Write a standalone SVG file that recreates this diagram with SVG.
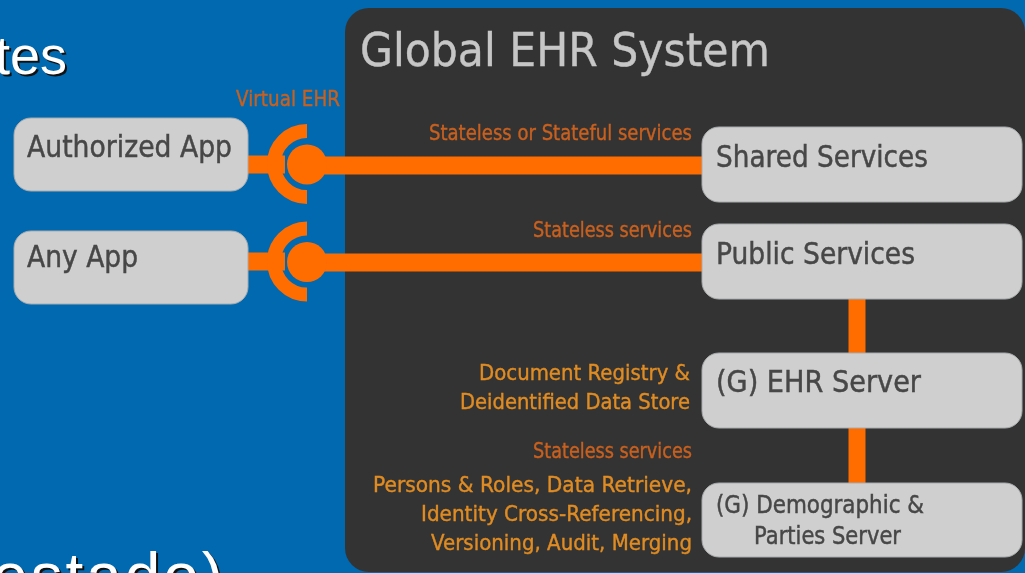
<svg xmlns="http://www.w3.org/2000/svg" width="1025" height="573" viewBox="0 0 1025 573">
<defs><filter id="soft" x="-5%" y="-20%" width="110%" height="140%"><feGaussianBlur stdDeviation="0.6"/></filter></defs>
<style>
.n{fill:#cfcfcf;stroke:#a9abad;stroke-width:1}
.t{font-family:"DejaVu Sans","Liberation Sans",sans-serif;fill:#474747;stroke:#474747;stroke-width:.5;font-size:31px;filter:url(#soft)}
.d{font-size:25px}
.o{font-family:"DejaVu Sans","Liberation Sans",sans-serif;fill:#e08c22;stroke:#e08c22;stroke-width:.4;font-size:21px;filter:url(#soft)}
.r{fill:#c9601f;stroke:#c9601f}
.c{stroke:#ff6c00;fill:none}
.h{font-family:"Liberation Sans",sans-serif;font-size:54px}
</style>
<rect width="1025" height="573" fill="#0069b0"/>
<text class="h" x="-5" y="74" fill="#111" transform="translate(2 2)">tes</text>
<text class="h" x="-5" y="74" fill="#fff">tes</text>
<text class="h" x="-32" y="598" fill="#111" transform="translate(2 2)" style="font-size:64px" textLength="255" lengthAdjust="spacing">(estado)</text>
<text class="h" x="-32" y="598" fill="#fff" style="font-size:64px" textLength="255" lengthAdjust="spacing">(estado)</text>
<rect x="345" y="8" width="680" height="564" rx="24" fill="#333"/>
<text x="360" y="66" font-family="DejaVu Sans,sans-serif" font-size="47" fill="#c6c6c6" stroke="#c6c6c6" stroke-width=".4" textLength="410" lengthAdjust="spacingAndGlyphs" filter="url(#soft)">Global EHR System</text>
<g id="connectors">
<path class="c" stroke-width="18" d="M310 165.500H705M310 262.500H705"/>
<path class="c" stroke-width="17" d="M857 295V355M857 425V485"/>
<path class="c" stroke-width="18" d="M248 164.500H285M248 261.500H285"/>
<circle cx="307" cy="164.500" r="20" fill="#ff6c00"/>
<circle cx="307" cy="262" r="20" fill="#ff6c00"/>
<path class="c" stroke-width="14" d="M307 131A33 33 0 0 0 307 197"/>
<path class="c" stroke-width="14" d="M307 228.500A33 33 0 0 0 307 294.500"/>
</g>
<g id="authorized"><rect class="n" x="14" y="118" width="234" height="73" rx="17"/><text class="t" x="27" y="157" textLength="205" lengthAdjust="spacingAndGlyphs">Authorized App</text></g>
<g id="any"><rect class="n" x="14" y="231" width="234" height="73" rx="17"/><text class="t" x="27" y="267" textLength="111" lengthAdjust="spacingAndGlyphs">Any App</text></g>
<g id="shared"><rect class="n" x="702" y="127" width="320" height="75" rx="17"/><text class="t" x="716" y="167" textLength="212" lengthAdjust="spacingAndGlyphs">Shared Services</text></g>
<g id="public"><rect class="n" x="702" y="224" width="320" height="75" rx="17"/><text class="t" x="716" y="264" textLength="199" lengthAdjust="spacingAndGlyphs">Public Services</text></g>
<g id="ehr"><rect class="n" x="702" y="353" width="320" height="75" rx="17"/><text class="t" x="716" y="392" textLength="205" lengthAdjust="spacingAndGlyphs">(G) EHR Server</text></g>
<g id="demo"><rect class="n" x="702" y="483" width="320" height="74" rx="17"/><text class="t d" x="716" y="513" textLength="208" lengthAdjust="spacingAndGlyphs">(G) Demographic &amp;</text><text class="t d" x="754" y="544" textLength="147" lengthAdjust="spacingAndGlyphs">Parties Server</text></g>
<g id="labels">
<text class="o r" x="236" y="106" textLength="104" lengthAdjust="spacingAndGlyphs">Virtual EHR</text>
<text class="o r" x="429" y="140" textLength="263" lengthAdjust="spacingAndGlyphs">Stateless or Stateful services</text>
<text class="o r" x="533" y="237" textLength="159" lengthAdjust="spacingAndGlyphs">Stateless services</text>
<text class="o" x="479" y="380" textLength="211" lengthAdjust="spacingAndGlyphs">Document Registry &amp;</text>
<text class="o" x="460" y="409" textLength="230" lengthAdjust="spacingAndGlyphs">Deidentified Data Store</text>
<text class="o r" x="533" y="458" textLength="159" lengthAdjust="spacingAndGlyphs">Stateless services</text>
<text class="o" x="373" y="492" textLength="319" lengthAdjust="spacingAndGlyphs">Persons &amp; Roles, Data Retrieve,</text>
<text class="o" x="421" y="521" textLength="271" lengthAdjust="spacingAndGlyphs">Identity Cross-Referencing,</text>
<text class="o" x="431" y="550" textLength="261" lengthAdjust="spacingAndGlyphs">Versioning, Audit, Merging</text>
</g>
</svg>
